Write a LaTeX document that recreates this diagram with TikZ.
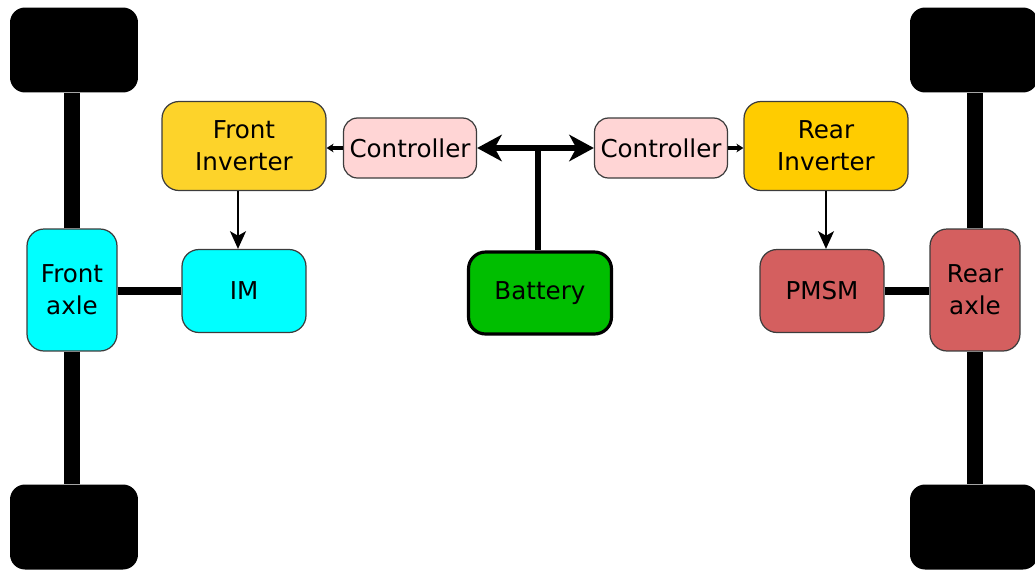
\documentclass[tikz,border=0pt]{standalone}
\usepackage{fontspec}
\setmainfont{DejaVu Sans}
\usepackage{tikz}
\usetikzlibrary{shapes,arrows,arrows.meta,positioning}
\usepackage{xcolor}

\definecolor{frontgold}{RGB}{253,211,42}
\definecolor{reargold}{RGB}{255,204,0}
\definecolor{ctrlpink}{RGB}{255,213,213}
\definecolor{motorred}{RGB}{212,95,95}
\definecolor{battgreen}{RGB}{0,190,0}
\definecolor{aqua}{RGB}{0,255,255}
\definecolor{edgegray}{RGB}{60,60,60}

\begin{document}
\begin{tikzpicture}[x=0.02cm, y=-0.02cm, font=\fontsize{14}{18}\selectfont]
\tikzstyle{box} = [rectangle, draw=edgegray, line width=0.7pt, align=center, inner sep=0pt, rounded corners=0.34cm]
\tikzstyle{wheel} = [rectangle, fill=black, rounded corners=0.3cm, minimum width=2.56cm, minimum height=1.7cm]
\tikzstyle{axlebox} = [box, minimum width=1.8cm, minimum height=2.44cm]
\tikzstyle{motor} = [box, minimum width=2.48cm, minimum height=1.66cm]
\tikzstyle{inverter} = [box, minimum width=3.28cm, minimum height=1.78cm]
\tikzstyle{ctrl} = [box, fill=ctrlpink, rounded corners=0.28cm, minimum width=2.66cm, minimum height=1.2cm]
\tikzstyle{shaft} = [line width=9pt]
\tikzstyle{link} = [line width=4.5pt]
\tikzstyle{arrow} = [line width=1.4pt, -{Stealth[length=10pt,width=9pt,inset=2.5pt]}]
\tikzstyle{small arrow} = [line width=2.4pt, -{Stealth[length=4pt,width=5pt]}]
\tikzstyle{bus} = [line width=3pt, {Stealth[length=14pt,width=15pt,inset=4pt]}-{Stealth[length=14pt,width=15pt,inset=4pt]}]

\clip (0,0) rectangle (1035,569);
\useasboundingbox (0,0) rectangle (1035,569);

% wheels
\node [wheel] (wfl) at (74,50) {};
\node [wheel] (wrl) at (74,527) {};
\node [wheel] (wfr) at (974,50) {};
\node [wheel] (wrr) at (974,527) {};

% axles and motors
\node [axlebox, fill=aqua] (fax) at (72,290) {Front\\axle};
\node [axlebox, fill=motorred] (rax) at (975,290) {Rear\\axle};
\node [motor, fill=aqua] (im) at (244,291) {IM};
\node [motor, fill=motorred] (pmsm) at (822,291) {PMSM};

% inverters and controllers
\node [inverter, fill=frontgold] (finv) at (244,146) {Front\\Inverter};
\node [inverter, fill=reargold] (rinv) at (826,146) {Rear\\Inverter};
\node [ctrl] (cl) at (410,148) {Controller};
\node [ctrl] (cr) at (661,148) {Controller};

\node [box, fill=battgreen, line width=1.8pt, draw=black, minimum width=2.86cm, minimum height=1.64cm] (bat) at (540,293) {Battery};

\draw [shaft] (fax.north) -- (fax.north |- wfl.south);
\draw [shaft] (fax.south) -- (fax.south |- wrl.north);
\draw [shaft] (rax.north) -- (rax.north |- wfr.south);
\draw [shaft] (rax.south) -- (rax.south |- wrr.north);
\draw [link] (fax.east |- im.west) -- (im.west);
\draw [link] (pmsm.east) -- (rax.west |- pmsm.east);

\draw [line width=3pt] (bat.north -| 538,0) -- (538,148);
\draw [bus] (cl) -- (cr);
\draw [small arrow] (cl) -- (cl.west -| finv.east);
\draw [small arrow] (cr) -- (cr.east -| rinv.west);
\draw [arrow] (finv.south -| 238,0) -- (im.north -| 238,0);
\draw [arrow] (rinv.south) -- (rinv.south |- pmsm.north);
\end{tikzpicture}
\end{document}
